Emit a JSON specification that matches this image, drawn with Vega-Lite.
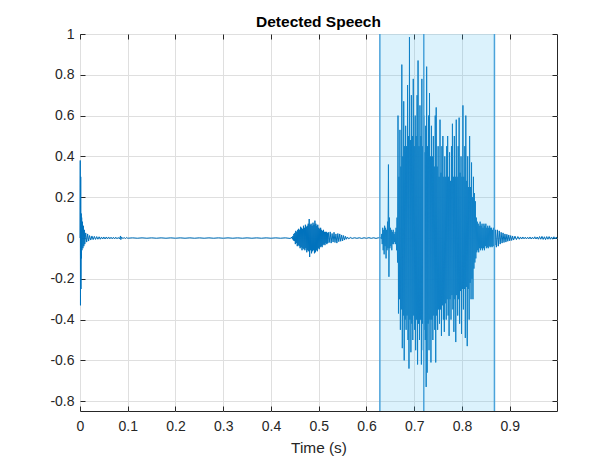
{
"$schema": "https://vega.github.io/schema/vega-lite/v6.json",
"width": 477, "height": 377,
"autosize": "none",
"padding": {"left": 80, "top": 34, "right": 59, "bottom": 51},
"background": "white",
"title": {"text": "Detected Speech", "font": "Liberation Sans", "fontSize": 15.5, "fontWeight": "bold", "color": "#000000", "offset": -3},
"datasets": {
"wave": [
{"t":0,"a":0},{"t":0.0005,"a":0.38},{"t":0.001,"a":-0.33},{"t":0.0015,"a":0.3},{"t":0.002,"a":-0.25},{"t":0.0025,"a":0.12},{"t":0.003,"a":-0.1},{"t":0.0035,"a":0.1},{"t":0.004,"a":-0.06},{"t":0.005,"a":0.08},{"t":0.006,"a":-0.05},{"t":0.007,"a":0.06},{"t":0.008,"a":-0.04},{"t":0.009,"a":0.04},{"t":0.01,"a":-0.03},{"t":0.012,"a":0.025},{"t":0.014,"a":-0.02},{"t":0.016,"a":0.02},{"t":0.018,"a":-0.015},{"t":0.02,"a":0.012},{"t":0.0225,"a":-0.01},{"t":0.025,"a":0.01},{"t":0.0275,"a":-0.008},{"t":0.03,"a":0.008},
{"t":0.0325,"a":-0.007},{"t":0.035,"a":0.007},{"t":0.0375,"a":-0.006},{"t":0.04,"a":0.006},{"t":0.0425,"a":-0.006},{"t":0.045,"a":0.005},{"t":0.0475,"a":-0.005},{"t":0.05,"a":0.005},{"t":0.0525,"a":-0.005},{"t":0.055,"a":0.005},{"t":0.0575,"a":-0.004},{"t":0.06,"a":0.005},{"t":0.0625,"a":-0.004},{"t":0.065,"a":0.004},{"t":0.0675,"a":-0.004},{"t":0.07,"a":0.004},{"t":0.0725,"a":-0.004},{"t":0.075,"a":0.004},{"t":0.0775,"a":-0.004},{"t":0.08,"a":0.003},{"t":0.0825,"a":-0.004},{"t":0.085,"a":0.01},{"t":0.0855,"a":-0.008},{"t":0.087,"a":0.005},{"t":0.09,"a":-0.003},{"t":0.0925,"a":0.003},{"t":0.095,"a":-0.003},{"t":0.0975,"a":0.003},
{"t":0.1,"a":-0.001},{"t":0.11,"a":0.001},{"t":0.12,"a":-0.001},{"t":0.13,"a":0.001},{"t":0.14,"a":-0.001},{"t":0.15,"a":0.001},{"t":0.16,"a":-0.001},{"t":0.17,"a":0.001},{"t":0.18,"a":-0.001},{"t":0.19,"a":0.001},{"t":0.2,"a":-0.001},{"t":0.21,"a":0.001},{"t":0.22,"a":-0.001},{"t":0.23,"a":0.001},{"t":0.24,"a":-0.001},{"t":0.25,"a":0.001},{"t":0.26,"a":-0.001},{"t":0.27,"a":0.001},{"t":0.28,"a":-0.001},{"t":0.29,"a":0.001},{"t":0.3,"a":-0.001},{"t":0.31,"a":0.001},{"t":0.32,"a":-0.001},{"t":0.33,"a":0.001},{"t":0.34,"a":-0.001},{"t":0.35,"a":0.001},{"t":0.36,"a":-0.001},{"t":0.37,"a":0.001},{"t":0.38,"a":-0.001},{"t":0.39,"a":0.001},{"t":0.4,"a":-0.001},{"t":0.41,"a":0.001},{"t":0.42,"a":-0.001},{"t":0.43,"a":0.001},{"t":0.44,"a":-0.002},
{"t":0.444,"a":0.004},{"t":0.445,"a":-0.006},{"t":0.446,"a":0.01},{"t":0.447,"a":-0.012},{"t":0.448,"a":0.02},{"t":0.449,"a":-0.015},{"t":0.45,"a":0.025},{"t":0.451,"a":-0.03},{"t":0.452,"a":0.035},{"t":0.453,"a":-0.025},{"t":0.454,"a":0.03},{"t":0.455,"a":-0.04},{"t":0.456,"a":0.04},{"t":0.457,"a":-0.035},{"t":0.458,"a":0.045},{"t":0.459,"a":-0.04},{"t":0.46,"a":0.04},{"t":0.461,"a":-0.05},{"t":0.462,"a":0.055},{"t":0.463,"a":-0.045},{"t":0.464,"a":0.05},{"t":0.465,"a":-0.06},{"t":0.466,"a":0.045},{"t":0.467,"a":-0.05},{"t":0.468,"a":0.06},{"t":0.469,"a":-0.055},{"t":0.47,"a":0.05},{"t":0.471,"a":-0.06},{"t":0.472,"a":0.065},{"t":0.473,"a":-0.05},{"t":0.474,"a":0.055},{"t":0.475,"a":-0.07},{"t":0.476,"a":0.06},{"t":0.477,"a":-0.06},{"t":0.478,"a":0.07},{"t":0.479,"a":-0.065},{"t":0.48,"a":0.093},{"t":0.481,"a":-0.093},{"t":0.482,"a":0.065},{"t":0.483,"a":-0.06},{"t":0.484,"a":0.07},{"t":0.485,"a":-0.075},{"t":0.486,"a":0.06},{"t":0.487,"a":-0.065},{"t":0.488,"a":0.075},{"t":0.489,"a":-0.06},{"t":0.49,"a":0.065},{"t":0.491,"a":-0.075},{"t":0.492,"a":0.085},{"t":0.493,"a":-0.07},{"t":0.494,"a":0.07},{"t":0.495,"a":-0.06},{"t":0.496,"a":0.06},{"t":0.497,"a":-0.065},{"t":0.498,"a":0.065},{"t":0.499,"a":-0.05},{"t":0.5,"a":0.05},{"t":0.501,"a":-0.055},{"t":0.502,"a":0.045},{"t":0.503,"a":-0.045},{"t":0.504,"a":0.05},{"t":0.505,"a":-0.04},{"t":0.506,"a":0.04},{"t":0.507,"a":-0.045},{"t":0.508,"a":0.035},{"t":0.509,"a":-0.035},{"t":0.51,"a":0.04},{"t":0.511,"a":-0.03},{"t":0.512,"a":0.03},{"t":0.513,"a":-0.035},{"t":0.514,"a":0.03},{"t":0.515,"a":-0.025},{"t":0.516,"a":0.03},{"t":0.517,"a":-0.03},{"t":0.518,"a":0.025},{"t":0.519,"a":-0.025},{"t":0.52,"a":0.028},
{"t":0.522,"a":-0.022},{"t":0.524,"a":0.03},{"t":0.526,"a":-0.025},{"t":0.528,"a":0.022},{"t":0.53,"a":-0.02},{"t":0.532,"a":0.028},{"t":0.534,"a":-0.022},{"t":0.536,"a":0.02},{"t":0.538,"a":-0.025},{"t":0.54,"a":0.022},{"t":0.542,"a":-0.018},{"t":0.544,"a":0.02},{"t":0.546,"a":-0.016},{"t":0.548,"a":0.015},{"t":0.55,"a":-0.014},{"t":0.552,"a":0.012},{"t":0.554,"a":-0.01},{"t":0.556,"a":0.008},{"t":0.558,"a":-0.006},{"t":0.56,"a":0.005},{"t":0.563,"a":-0.004},{"t":0.566,"a":0.003},{"t":0.57,"a":-0.002},
{"t":0.575,"a":0.0015},{"t":0.58,"a":-0.0015},{"t":0.585,"a":0.0015},{"t":0.59,"a":-0.002},{"t":0.595,"a":0.0015},{"t":0.6,"a":-0.0015},{"t":0.605,"a":0.002},{"t":0.61,"a":-0.0015},{"t":0.615,"a":0.0015},{"t":0.62,"a":-0.002},{"t":0.625,"a":0.0015},
{"t":0.63,"a":0.003},{"t":0.631,"a":-0.005},{"t":0.632,"a":0.02},{"t":0.633,"a":-0.03},{"t":0.634,"a":0.05},{"t":0.635,"a":-0.06},{"t":0.636,"a":0.04},{"t":0.637,"a":-0.08},{"t":0.638,"a":0.06},{"t":0.639,"a":-0.04},{"t":0.64,"a":0.05},{"t":0.641,"a":-0.1},{"t":0.642,"a":0.04},{"t":0.643,"a":-0.06},{"t":0.644,"a":0.08},{"t":0.645,"a":-0.05},{"t":0.646,"a":0.36},{"t":0.647,"a":-0.19},{"t":0.648,"a":0.1},{"t":0.649,"a":-0.05},{"t":0.65,"a":0.05},{"t":0.651,"a":-0.04},{"t":0.652,"a":0.04},{"t":0.653,"a":-0.06},{"t":0.654,"a":0.03},{"t":0.655,"a":-0.03},{"t":0.656,"a":0.04},{"t":0.657,"a":-0.03},{"t":0.658,"a":0.02},{"t":0.659,"a":-0.02},{"t":0.66,"a":0.03},{"t":0.661,"a":-0.03},{"t":0.662,"a":0.05},{"t":0.663,"a":-0.06},{"t":0.664,"a":0.1},{"t":0.665,"a":-0.12},{"t":0.666,"a":0.6},{"t":0.667,"a":-0.37},
{"t":0.668,"a":0.3},{"t":0.669,"a":-0.3},{"t":0.67,"a":0.53},{"t":0.671,"a":-0.45},{"t":0.672,"a":0.35},{"t":0.673,"a":-0.35},{"t":0.674,"a":0.85},{"t":0.675,"a":-0.54},{"t":0.676,"a":0.4},{"t":0.677,"a":-0.38},{"t":0.678,"a":0.67},{"t":0.679,"a":-0.6},{"t":0.68,"a":0.45},{"t":0.681,"a":-0.4},{"t":0.682,"a":0.55},{"t":0.683,"a":-0.45},{"t":0.684,"a":0.45},{"t":0.685,"a":-0.38},{"t":0.686,"a":0.75},{"t":0.687,"a":-0.5},{"t":0.688,"a":0.5},{"t":0.689,"a":-0.64},{"t":0.69,"a":0.985},{"t":0.691,"a":-0.4},{"t":0.692,"a":0.48},{"t":0.693,"a":-0.56},{"t":0.694,"a":0.7},{"t":0.695,"a":-0.42},{"t":0.696,"a":0.5},{"t":0.697,"a":-0.5},{"t":0.698,"a":0.78},{"t":0.699,"a":-0.38},
{"t":0.7,"a":0.45},{"t":0.701,"a":-0.45},{"t":0.702,"a":0.6},{"t":0.703,"a":-0.55},{"t":0.704,"a":0.5},{"t":0.705,"a":-0.4},{"t":0.706,"a":0.7},{"t":0.707,"a":-0.62},{"t":0.708,"a":0.87},{"t":0.709,"a":-0.42},{"t":0.71,"a":0.45},{"t":0.711,"a":-0.5},{"t":0.712,"a":0.65},{"t":0.713,"a":-0.4},{"t":0.714,"a":0.5},{"t":0.715,"a":-0.62},{"t":0.716,"a":0.78},{"t":0.717,"a":-0.42},{"t":0.718,"a":0.45},{"t":0.719,"a":-0.55},{"t":0.72,"a":0.6},{"t":0.721,"a":-0.45},{"t":0.722,"a":0.42},{"t":0.723,"a":-0.5},{"t":0.724,"a":0.55},{"t":0.725,"a":-0.73},{"t":0.726,"a":0.84},{"t":0.727,"a":-0.66},{"t":0.728,"a":0.45},{"t":0.729,"a":-0.42},{"t":0.73,"a":0.6},{"t":0.731,"a":-0.55},{"t":0.732,"a":0.71},{"t":0.733,"a":-0.4},{"t":0.734,"a":0.4},{"t":0.735,"a":-0.61},{"t":0.736,"a":0.55},{"t":0.737,"a":-0.4},{"t":0.738,"a":0.4},{"t":0.739,"a":-0.5},{"t":0.74,"a":0.5},{"t":0.741,"a":-0.38},{"t":0.742,"a":0.35},{"t":0.743,"a":-0.45},{"t":0.744,"a":0.6},{"t":0.745,"a":-0.61},{"t":0.746,"a":0.64},{"t":0.747,"a":-0.38},{"t":0.748,"a":0.35},{"t":0.749,"a":-0.45},
{"t":0.75,"a":0.45},{"t":0.751,"a":-0.35},{"t":0.752,"a":0.3},{"t":0.753,"a":-0.42},{"t":0.754,"a":0.58},{"t":0.755,"a":-0.35},{"t":0.756,"a":0.32},{"t":0.757,"a":-0.48},{"t":0.758,"a":0.45},{"t":0.759,"a":-0.33},{"t":0.76,"a":0.5},{"t":0.761,"a":-0.4},{"t":0.762,"a":0.3},{"t":0.763,"a":-0.46},{"t":0.764,"a":0.4},{"t":0.765,"a":-0.32},{"t":0.766,"a":0.3},{"t":0.767,"a":-0.4},{"t":0.768,"a":0.45},{"t":0.769,"a":-0.3},{"t":0.77,"a":0.5},{"t":0.771,"a":-0.38},{"t":0.772,"a":0.3},{"t":0.773,"a":-0.48},{"t":0.774,"a":0.42},{"t":0.775,"a":-0.3},{"t":0.776,"a":0.28},{"t":0.777,"a":-0.4},{"t":0.778,"a":0.45},{"t":0.779,"a":-0.28},{"t":0.78,"a":0.56},{"t":0.781,"a":-0.35},{"t":0.782,"a":0.3},{"t":0.783,"a":-0.46},{"t":0.784,"a":0.5},{"t":0.785,"a":-0.3},{"t":0.786,"a":0.3},{"t":0.787,"a":-0.51},{"t":0.788,"a":0.58},{"t":0.789,"a":-0.28},{"t":0.79,"a":0.3},{"t":0.791,"a":-0.38},{"t":0.792,"a":0.45},{"t":0.793,"a":-0.3},{"t":0.794,"a":0.59},{"t":0.795,"a":-0.42},{"t":0.796,"a":0.32},{"t":0.797,"a":-0.26},{"t":0.798,"a":0.4},{"t":0.799,"a":-0.47},
{"t":0.8,"a":0.3},{"t":0.801,"a":-0.25},{"t":0.802,"a":0.65},{"t":0.803,"a":-0.35},{"t":0.804,"a":0.3},{"t":0.805,"a":-0.25},{"t":0.806,"a":0.45},{"t":0.807,"a":-0.49},{"t":0.808,"a":0.6},{"t":0.809,"a":-0.24},{"t":0.81,"a":0.28},{"t":0.811,"a":-0.53},{"t":0.812,"a":0.4},{"t":0.813,"a":-0.25},{"t":0.814,"a":0.25},{"t":0.815,"a":-0.4},{"t":0.816,"a":0.5},{"t":0.817,"a":-0.22},{"t":0.818,"a":0.25},{"t":0.819,"a":-0.3},{"t":0.82,"a":0.37},{"t":0.821,"a":-0.2},{"t":0.822,"a":0.2},{"t":0.823,"a":-0.3},{"t":0.824,"a":0.3},{"t":0.825,"a":-0.15},{"t":0.826,"a":0.22},{"t":0.827,"a":-0.12},{"t":0.828,"a":0.18},{"t":0.829,"a":-0.1},{"t":0.83,"a":0.1},{"t":0.831,"a":-0.07},{"t":0.832,"a":0.08},{"t":0.833,"a":-0.06},{"t":0.834,"a":0.07},{"t":0.835,"a":-0.07},{"t":0.836,"a":0.06},{"t":0.837,"a":-0.05},{"t":0.838,"a":0.08},{"t":0.839,"a":-0.06},{"t":0.84,"a":0.06},{"t":0.841,"a":-0.05},{"t":0.842,"a":0.07},{"t":0.843,"a":-0.06},{"t":0.844,"a":0.05},{"t":0.845,"a":-0.05},{"t":0.846,"a":0.07},{"t":0.847,"a":-0.06},{"t":0.848,"a":0.06},{"t":0.849,"a":-0.04},
{"t":0.85,"a":0.07},{"t":0.851,"a":-0.05},{"t":0.852,"a":0.05},{"t":0.853,"a":-0.045},{"t":0.854,"a":0.06},{"t":0.855,"a":-0.05},{"t":0.856,"a":0.05},{"t":0.857,"a":-0.04},{"t":0.858,"a":0.06},{"t":0.859,"a":-0.045},{"t":0.86,"a":0.05},{"t":0.861,"a":-0.04},{"t":0.862,"a":0.05},{"t":0.863,"a":-0.045},{"t":0.864,"a":0.04},{"t":0.865,"a":-0.04},{"t":0.866,"a":0.05},{"t":0.867,"a":-0.04},{"t":0.868,"a":0.045},{"t":0.869,"a":-0.035},{"t":0.87,"a":0.04},
{"t":0.872,"a":-0.045},{"t":0.874,"a":0.04},{"t":0.876,"a":-0.04},{"t":0.878,"a":0.035},{"t":0.88,"a":-0.03},{"t":0.882,"a":0.028},{"t":0.884,"a":-0.025},{"t":0.886,"a":0.025},{"t":0.888,"a":-0.022},{"t":0.89,"a":0.02},{"t":0.892,"a":-0.02},{"t":0.894,"a":0.018},{"t":0.896,"a":-0.016},{"t":0.898,"a":0.015},{"t":0.9,"a":-0.014},{"t":0.902,"a":0.012},{"t":0.904,"a":-0.012},{"t":0.906,"a":0.01},{"t":0.908,"a":-0.01},{"t":0.911,"a":0.009},{"t":0.914,"a":-0.008},{"t":0.917,"a":0.007},
{"t":0.92,"a":-0.006},{"t":0.9225,"a":0.005},{"t":0.925,"a":-0.005},{"t":0.9275,"a":0.005},{"t":0.93,"a":-0.004},{"t":0.9325,"a":0.004},{"t":0.935,"a":-0.004},{"t":0.9375,"a":0.004},{"t":0.94,"a":-0.004},{"t":0.9425,"a":0.005},{"t":0.945,"a":-0.005},{"t":0.9475,"a":0.004},{"t":0.95,"a":-0.004},{"t":0.9525,"a":0.006},{"t":0.955,"a":-0.005},{"t":0.9575,"a":0.005},{"t":0.96,"a":-0.006},{"t":0.9625,"a":0.007},{"t":0.965,"a":-0.006},{"t":0.9675,"a":0.008},{"t":0.97,"a":-0.007},{"t":0.9725,"a":0.006},{"t":0.975,"a":-0.008},{"t":0.9775,"a":0.007},{"t":0.98,"a":-0.006},{"t":0.9825,"a":0.007},{"t":0.985,"a":-0.006},{"t":0.9875,"a":0.005},{"t":0.99,"a":-0.006},{"t":0.9925,"a":0.006},{"t":0.995,"a":-0.005},{"t":0.9975,"a":0.005},{"t":0.999,"a":-0.003}
],
"regions": [{"s": 0.628, "e": 0.72}, {"s": 0.72, "e": 0.868}],
"edges": [{"x": 0.628}, {"x": 0.72}, {"x": 0.868}]
},
"config": {
"view": {"stroke": "#262626", "strokeWidth": 1},
"axis": {"domain": false, "labelFont": "Liberation Sans", "labelFontSize": 14, "labelColor": "#262626", "titleFont": "Liberation Sans", "titleFontSize": 15.4, "titleColor": "#262626", "titleFontWeight": "normal", "tickColor": "#262626", "tickSize": -5, "gridColor": "#dfdfdf", "gridOpacity": 1, "labelFlush": false}
},
"layer": [
{"data": {"name": "wave"}, "mark": {"type": "line", "color": "#0072BD", "strokeWidth": 1},
 "encoding": {
  "x": {"field": "t", "type": "quantitative", "scale": {"domain": [0, 0.999], "nice": false, "zero": false},
        "axis": {"orient": "bottom", "values": [0, 0.1, 0.2, 0.3, 0.4, 0.5, 0.6, 0.7, 0.8, 0.9], "labelExpr": "datum.value + ''", "title": "Time (s)", "grid": true, "labelPadding": 13, "titlePadding": 7}},
  "y": {"field": "a", "type": "quantitative", "scale": {"domain": [-0.848, 1], "nice": false, "zero": false},
        "axis": {"orient": "left", "values": [-0.8, -0.6, -0.4, -0.2, 0, 0.2, 0.4, 0.6, 0.8, 1], "labelExpr": "datum.value + ''", "title": null, "grid": true, "labelPadding": 11}}
 }},
{"data": {"name": "regions"}, "mark": {"type": "rect", "color": "#4DBEEE", "opacity": 0.2},
 "encoding": {"x": {"field": "s", "type": "quantitative", "axis": null}, "x2": {"field": "e"}}},
{"data": {"name": "edges"}, "mark": {"type": "rule", "color": "#4ba3da", "strokeWidth": 1.5},
 "encoding": {"x": {"field": "x", "type": "quantitative", "axis": null}}},
{"data": {"name": "wave"}, "mark": {"type": "line", "opacity": 0},
 "encoding": {
  "x": {"field": "t", "type": "quantitative", "axis": {"orient": "top", "values": [0, 0.1, 0.2, 0.3, 0.4, 0.5, 0.6, 0.7, 0.8, 0.9], "labels": false, "title": null, "grid": false}},
  "y": {"field": "a", "type": "quantitative", "axis": {"orient": "right", "values": [-0.8, -0.6, -0.4, -0.2, 0, 0.2, 0.4, 0.6, 0.8, 1], "labels": false, "title": null, "grid": false}}
 }}
],
"resolve": {"axis": {"x": "independent", "y": "independent"}}
}
